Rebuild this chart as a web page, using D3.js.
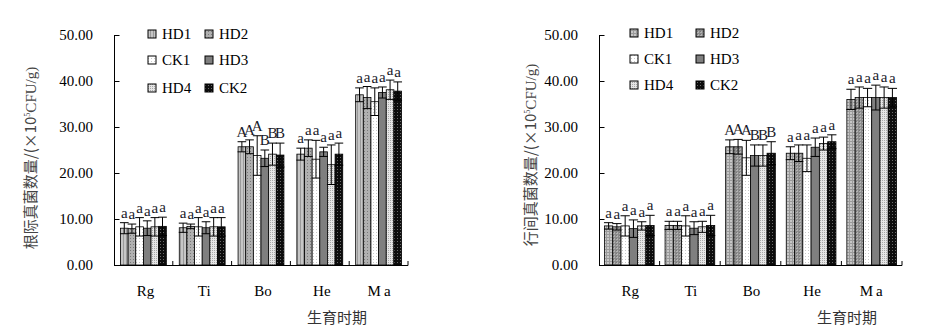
<!DOCTYPE html>
<html><head><meta charset="utf-8">
<script src="https://cdn.jsdelivr.net/npm/d3@7/dist/d3.min.js"></script>
<style>
body{margin:0;background:#fff;}
svg{display:block;}
</style></head>
<body>
<svg id="chart" width="936" height="335"></svg>
<script>
const categories = ["Rg","Ti","Bo","He","Ma"];
const seriesNames = ["HD1","HD2","CK1","HD3","HD4","CK2"];
const yTicks = [0,10,20,30,40,50];

// 根际 (left chart) means per series, by category
const rootHD1 = [8.0, 8.1, 25.7, 24.1, 37.0];
const rootHD2 = [7.9, 8.4, 25.7, 25.4, 36.4];
const rootCK1 = [8.3, 8.3, 23.8, 23.0, 35.5];
const rootHD3 = [8.0, 8.1, 23.2, 24.6, 37.5];
const rootHD4 = [8.3, 8.3, 24.1, 21.8, 38.1];
const rootCK2 = [8.4, 8.3, 23.9, 24.1, 37.8];
// error (SD)
const rootErrHD1 = [1.2, 1.0, 1.1, 1.3, 1.5];
const rootErrHD2 = [1.0, 0.5, 1.5, 1.8, 2.4];
const rootErrCK1 = [2.0, 2.0, 4.3, 4.1, 3.0];
const rootErrHD3 = [1.6, 1.3, 1.8, 1.0, 1.2];
const rootErrHD4 = [2.0, 2.0, 2.4, 4.3, 2.1];
const rootErrCK2 = [2.0, 2.0, 2.6, 2.4, 2.0];
const rootSig = ["aaaaaa","aaaaaa","AAABBB","aaaaaa","aaaaaa"];

// 行间 (right chart)
const rowHD1 = [8.5, 8.6, 25.7, 24.3, 36.0];
const rowHD2 = [8.3, 8.6, 25.7, 24.3, 36.4];
const rowCK1 = [8.5, 8.5, 23.3, 23.2, 36.4];
const rowHD3 = [7.9, 8.0, 23.8, 25.6, 36.4];
const rowHD4 = [8.5, 8.3, 23.8, 26.4, 36.4];
const rowCK2 = [8.6, 8.6, 24.3, 26.8, 36.4];
const rowErrHD1 = [0.7, 0.9, 1.5, 1.4, 2.2];
const rowErrHD2 = [0.7, 0.9, 1.6, 1.8, 2.3];
const rowErrCK1 = [2.2, 2.2, 3.8, 2.9, 2.0];
const rowErrHD3 = [1.9, 1.4, 2.3, 2.0, 2.7];
const rowErrHD4 = [0.9, 1.2, 2.3, 1.4, 2.3];
const rowErrCK2 = [2.2, 2.2, 2.5, 1.5, 2.0];
const rowSig = ["aaaaaa","aaaaaa","AAABBB","aaaaaa","aaaaaa"];

const svg = d3.select("#chart");
const defs = svg.append("defs");

function makePatterns(prefix, grid){
  const pats = [];
  function pat(id, w, h, bg, draw){
    const p = defs.append("pattern").attr("id", prefix+id).attr("patternUnits","userSpaceOnUse")
      .attr("width", w).attr("height", h);
    p.append("rect").attr("width", w).attr("height", h).attr("fill", bg);
    draw(p);
    return "url(#"+prefix+id+")";
  }
  pats.push(pat("HD1", 3, 3, "#c6c6c6", p=>{
    p.append("rect").attr("x",0).attr("y",0).attr("width",1).attr("height",3).attr("fill","#9a9a9a");
    if(grid) p.append("rect").attr("x",0).attr("y",0).attr("width",3).attr("height",1).attr("fill","#9a9a9a");
  }));
  pats.push(pat("HD2", 3, 3, "#b0b0b0", p=>{
    p.append("rect").attr("x",1).attr("y",1).attr("width",1).attr("height",1).attr("fill","#7a7a7a");
    if(grid){ p.append("rect").attr("x",0).attr("y",0).attr("width",1).attr("height",3).attr("fill","#8a8a8a");
      p.append("rect").attr("x",0).attr("y",0).attr("width",3).attr("height",1).attr("fill","#8a8a8a");}
  }));
  pats.push(pat("CK1", 3, 3, "#ffffff", p=>{
    p.append("rect").attr("x",1).attr("y",1).attr("width",1).attr("height",1).attr("fill","#c8c8c8");
  }));
  pats.push("#7f7f7f");
  pats.push(pat("HD4", 2, 2, "#e6e6e6", p=>{
    p.append("rect").attr("x",0).attr("y",0).attr("width",1).attr("height",1).attr("fill","#a8a8a8");
  }));
  pats.push(pat("CK2", 3, 3, "#0d0d0d", p=>{
    p.append("rect").attr("x",1).attr("y",1).attr("width",1).attr("height",1).attr("fill","#6a6a6a");
  }));
  return pats;
}

const leftFills = makePatterns("L", false);
const rightFills = makePatterns("R", true);

function drawChart(cfg){
  const g = svg.append("g");
  const y = d3.scaleLinear().domain([0,50]).range([cfg.y0, cfg.y1]);
  const x0 = d3.scaleBand().domain(categories).range([cfg.xL, cfg.xR]).padding(0);
  const bw = x0.bandwidth();
  const inner = bw*cfg.frac;
  const x1 = d3.scaleBand().domain(seriesNames).range([(bw-inner)/2, (bw+inner)/2]).padding(0);

  const rows = [];
  cfg.means.forEach((arr, si)=>{
    arr.forEach((v, ci)=>{
      rows.push({s: seriesNames[si], si, c: categories[ci], ci, v, e: cfg.errs[si][ci], sig: cfg.sig[ci][si]});
    });
  });

  g.selectAll("rect.bar").data(rows).enter().append("rect")
    .attr("class","bar")
    .attr("x", d=>x0(d.c)+x1(d.s))
    .attr("y", d=>y(d.v))
    .attr("width", x1.bandwidth())
    .attr("height", d=>y(0)-y(d.v))
    .attr("fill", d=>cfg.fills[d.si])
    .attr("stroke","#000").attr("stroke-width",0.8);

  const eg = g.append("g").attr("stroke","#000").attr("stroke-width",1);
  rows.forEach(d=>{
    const cx = x0(d.c)+x1(d.s)+x1.bandwidth()/2;
    const hw = x1.bandwidth()/2+0.5;
    const yt = y(d.v+d.e), yb = y(d.v-d.e);
    eg.append("line").attr("x1",cx).attr("x2",cx).attr("y1",yt).attr("y2",yb);
    eg.append("line").attr("x1",cx-hw).attr("x2",cx+hw).attr("y1",yt).attr("y2",yt);
    eg.append("line").attr("x1",cx-hw).attr("x2",cx+hw).attr("y1",yb).attr("y2",yb);
  });

  g.selectAll("text.sig").data(rows).enter().append("text")
    .attr("class","sig")
    .attr("x", d=>x0(d.c)+x1(d.s)+x1.bandwidth()/2)
    .attr("y", d=>y(d.v+d.e)-5)
    .attr("text-anchor","middle")
    .attr("font-family","'Liberation Serif', serif")
    .attr("font-size", 15)
    .attr("fill","#1a1a2a")
    .text(d=>d.sig);

  const yAxis = d3.axisLeft(y).tickValues(yTicks).tickSize(-5).tickPadding(21).tickFormat(d3.format(".2f"));
  const ya = g.append("g").attr("transform",`translate(${cfg.xL},0)`).call(yAxis);
  ya.select(".domain").attr("d", `M0.5,${cfg.y1}V${cfg.y0}`).attr("stroke","#000");
  ya.selectAll(".tick line").attr("stroke","#000").attr("transform","translate(0.5,0)");
  ya.selectAll(".tick text").attr("font-family","'Liberation Serif', serif").attr("font-size",15).attr("fill","#000");

  const xa = g.append("g").attr("transform",`translate(0,${cfg.y0})`);
  xa.append("line").attr("x1",cfg.xL).attr("x2",cfg.xR).attr("y1",0.5).attr("y2",0.5).attr("stroke","#000");
  categories.forEach(c=>{
    const xr = x0(c)+bw;
    xa.append("line").attr("x1",xr).attr("x2",xr).attr("y1",0.5).attr("y2",-4).attr("stroke","#000");
  });
  xa.selectAll("text.cat").data(categories).enter().append("text")
    .attr("class","cat")
    .attr("x", d=>x0(d)+bw/2 + cfg.labShift)
    .attr("y", 31)
    .attr("text-anchor","middle")
    .attr("font-family","'Liberation Serif', serif")
    .attr("font-size",15)
    .attr("letter-spacing", d=> d==="Ma"?"3px":"0px")
    .attr("fill","#000")
    .text(d=>d);

  g.append("text").attr("x", cfg.xTitleX).attr("y", 323).attr("text-anchor","middle")
    .attr("font-family","'Noto Sans CJK SC', sans-serif").attr("font-size",15).attr("fill","#333")
    .text("生育时期");

  const yt = g.append("text").attr("transform",`translate(${cfg.yTitleX},${cfg.yTitleY}) rotate(-90)`)
    .attr("text-anchor","middle").attr("font-family","'Noto Sans CJK SC', sans-serif")
    .attr("font-size",15).attr("fill","#444");
  yt.append("tspan").text(cfg.yTitle + "/(×10");
  yt.append("tspan").attr("font-size",8).attr("dy",-6).attr("font-family","'Liberation Serif', serif").text("5");
  yt.append("tspan").attr("dy",6).attr("font-family","'Liberation Serif', serif").text("CFU/g)");

  const lg = g.append("g");
  seriesNames.forEach((s,i)=>{
    const col = i%2, row = Math.floor(i/2);
    const bx = cfg.legX[col], by = cfg.legY[row];
    lg.append("rect").attr("x",bx).attr("y",by-4).attr("width",8).attr("height",8)
      .attr("fill",cfg.fills[i]).attr("stroke","#000").attr("stroke-width",1);
    lg.append("text").attr("x",bx+14).attr("y",by+5)
      .attr("font-family","'Liberation Serif', serif").attr("font-size",15).attr("fill","#000")
      .text(s);
  });
}

drawChart({
  xL:114, xR:408, y0:265, y1:35, frac:0.78, labShift:2,
  means:[rootHD1,rootHD2,rootCK1,rootHD3,rootHD4,rootCK2],
  errs:[rootErrHD1,rootErrHD2,rootErrCK1,rootErrHD3,rootErrHD4,rootErrCK2],
  sig: rootSig, fills:leftFills,
  xTitleX:337, yTitleX:36, yTitleY:158, yTitle:"根际真菌数量",
  legX:[148,205], legY:[34,60,88]
});
drawChart({
  xL:599, xR:902, y0:265, y1:35, frac:0.82, labShift:1,
  means:[rowHD1,rowHD2,rowCK1,rowHD3,rowHD4,rowCK2],
  errs:[rowErrHD1,rowErrHD2,rowErrCK1,rowErrHD3,rowErrHD4,rowErrCK2],
  sig: rowSig, fills:rightFills,
  xTitleX:847, yTitleX:536, yTitleY:155, yTitle:"行间真菌数量",
  legX:[630,696], legY:[33,59,85]
});
</script>
</body></html>
